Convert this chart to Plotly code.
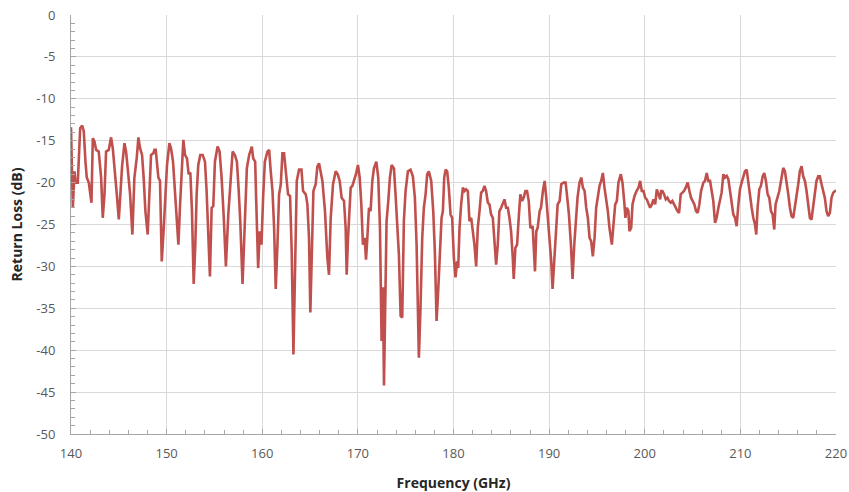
import plotly.graph_objects as go

# Frequency (GHz) and return loss (dB)
freq = [
    140.0, 140.19, 140.37, 140.47, 140.71, 140.82, 140.96, 141.17, 141.34, 141.51, 141.65, 141.86, 142.0, 142.14,
    142.28, 142.45, 142.63, 142.9, 143.15, 143.32, 143.5, 143.67, 143.95, 144.19, 144.37, 144.54, 144.79, 145.0,
    145.17, 145.34, 145.59, 145.76, 145.93, 146.18, 146.42, 146.63, 146.87, 147.05, 147.22, 147.43, 147.6, 147.78,
    148.02, 148.2, 148.37, 148.61,
    148.72, 148.86, 149.14, 149.31, 149.49, 149.7, 149.87, 150.04, 150.29, 150.46, 150.67, 150.88, 151.05, 151.23,
    151.4, 151.57, 151.75, 151.92, 152.13, 152.3, 152.48, 152.65, 152.83, 153.0, 153.14, 153.31, 153.52, 153.77,
    154.01, 154.18, 154.36, 154.53, 154.71, 154.88, 155.05, 155.33, 155.54, 155.75, 155.96, 156.2, 156.45, 156.65,
    156.9, 157.14, 157.35, 157.52, 157.7, 157.94, 158.19, 158.39,
    158.63, 158.91, 159.05, 159.26, 159.4, 159.57, 159.74, 159.92, 160.09, 160.27, 160.54, 160.72, 160.89, 161.07,
    161.24, 161.41, 161.59, 161.76, 161.94, 162.11, 162.28, 162.46, 162.7, 162.91, 163.08, 163.26, 163.43, 163.61,
    163.85, 164.1, 164.27, 164.55, 164.72, 164.89, 165.03, 165.17, 165.35, 165.59, 165.76, 165.94, 166.11, 166.29,
    166.56, 166.81, 166.98, 167.16, 167.4, 167.68, 167.89, 168.1, 168.3,
    168.55, 168.72, 168.83, 168.97, 169.11, 169.25, 169.42, 169.59, 169.8, 170.01, 170.19, 170.36, 170.53, 170.71,
    170.85, 170.99, 171.16, 171.33, 171.51, 171.68, 171.93, 172.13, 172.31, 172.48, 172.62, 172.73, 172.87, 173.0,
    173.18, 173.35, 173.53, 173.77, 173.94, 174.12, 174.29, 174.47, 174.64, 174.81, 174.99, 175.23, 175.51, 175.75,
    175.96, 176.14, 176.28, 176.38, 176.55, 176.73, 176.9, 177.08, 177.25, 177.42, 177.67, 177.88, 178.05, 178.23,
    178.4,
    178.75, 178.89, 179.03, 179.17, 179.34, 179.51, 179.69, 179.86, 180.04, 180.21, 180.38, 180.49, 180.63, 180.8,
    180.98, 181.15, 181.32, 181.5, 181.67, 181.85, 182.02, 182.19, 182.37, 182.54, 182.72, 182.89, 183.06, 183.24,
    183.41, 183.59, 183.76, 183.93, 184.11, 184.28, 184.46, 184.63, 184.8, 184.98, 185.15, 185.33, 185.5, 185.68,
    185.85, 186.02, 186.2, 186.3, 186.47, 186.65, 186.82, 186.99, 187.17, 187.34, 187.52, 187.69, 187.87, 188.04,
    188.28,
    188.52, 188.66, 188.8, 189.01, 189.15, 189.35, 189.53, 189.7, 189.88, 190.05, 190.22, 190.36, 190.54, 190.71,
    190.89, 191.1, 191.27, 191.51, 191.72, 191.86, 192.07, 192.28, 192.45, 192.63, 192.8, 192.97, 193.18, 193.36,
    193.53, 193.71, 193.88, 194.05, 194.23, 194.4, 194.57, 194.75, 194.92, 195.1, 195.27, 195.44, 195.62, 195.79,
    195.97, 196.14, 196.31, 196.56, 196.73, 196.91, 197.08, 197.25, 197.5, 197.67, 197.85, 197.98, 198.12, 198.29,
    198.4, 198.58, 198.72, 198.93, 199.14, 199.35, 199.52, 199.69, 199.87, 200.04, 200.21, 200.39, 200.56, 200.74,
    200.91, 201.09, 201.26, 201.44, 201.61, 201.71, 201.85, 202.02, 202.2, 202.37, 202.54, 202.72, 202.89, 203.07,
    203.24, 203.42, 203.59, 203.76, 203.94, 204.11, 204.28, 204.49, 204.67, 204.84, 205.02, 205.19, 205.36, 205.54,
    205.71, 205.89, 206.13, 206.3, 206.48, 206.65, 206.83, 207.0, 207.17, 207.35, 207.52, 207.7, 207.87, 208.04,
    208.22, 208.39, 208.57, 208.74, 208.92, 209.09, 209.26, 209.44, 209.61, 209.79, 209.96, 210.13, 210.31, 210.48,
    210.66, 210.83, 211.0, 211.18, 211.35, 211.53, 211.66, 211.8, 211.98, 212.15, 212.33, 212.5, 212.67, 212.85,
    213.02, 213.2, 213.37, 213.54, 213.68, 213.86, 214.07, 214.28, 214.48, 214.66, 214.83, 215.01, 215.18, 215.35,
    215.53, 215.7, 215.88, 216.05, 216.22, 216.4, 216.57, 216.75, 216.92, 217.09, 217.27, 217.44, 217.62, 217.79,
    217.96, 218.14, 218.31, 218.49, 218.66, 218.83, 219.01, 219.18, 219.36, 219.53, 219.71, 219.88, 220.0,
]

return_loss = [
    -13.4, -23.0, -18.65, -20.0, -20.0, -16.3, -13.5, -13.2, -13.9, -17.5, -19.4, -20.0, -21.0, -22.4,
    -14.7, -15.1, -16.1, -16.3, -19.4, -24.2, -21.4, -16.3, -16.1, -14.6, -15.9, -17.9, -21.4, -24.4,
    -20.6, -18.1, -15.3, -16.3, -18.3, -21.4, -26.2, -19.4, -17.1, -14.6, -15.9, -16.7, -19.4, -23.4,
    -26.2, -21.4, -16.7, -16.5,
    -16.1, -16.1, -19.4, -19.8, -29.4, -25.4, -20.6, -17.9, -15.3, -15.9, -17.5, -21.0, -23.8, -27.4,
    -22.8, -18.7, -14.9, -16.7, -17.1, -19.0, -18.8, -23.4, -32.1, -27.4, -21.4, -17.9, -16.7, -16.7,
    -17.5, -21.0, -25.4, -31.2, -23.0, -22.8, -17.5, -15.7, -16.3, -19.4, -23.8, -30.0, -23.8, -20.2,
    -16.3, -16.7, -17.5, -20.6, -24.6, -32.1, -23.4, -18.3,
    -16.7, -15.7, -17.1, -17.5, -23.4, -30.2, -25.8, -27.4, -21.8, -17.5, -16.3, -16.1, -18.7, -21.0,
    -25.4, -32.7, -27.4, -21.4, -20.2, -16.5, -16.5, -18.3, -21.4, -21.6, -28.2, -40.5, -29.4, -19.8,
    -18.45, -18.45, -21.0, -21.4, -22.6, -26.6, -35.5, -27.4, -21.0, -20.2, -18.1, -17.7, -18.65, -19.8,
    -23.4, -29.0, -31.0, -24.2, -20.2, -18.65, -19.0, -19.8, -21.8,
    -22.2, -25.4, -31.0, -26.6, -23.8, -20.6, -20.4, -19.8, -19.0, -17.9, -19.4, -22.6, -27.4, -26.6,
    -29.2, -26.6, -23.0, -23.4, -19.8, -18.3, -17.5, -19.4, -25.4, -38.9, -32.5, -44.2, -31.3, -24.6,
    -22.2, -19.4, -17.9, -18.3, -21.4, -24.6, -28.6, -35.9, -36.1, -24.6, -21.0, -18.65, -18.45, -19.25,
    -21.8, -27.4, -34.5, -40.9, -34.9, -26.6, -23.0, -21.4, -19.0, -18.65, -19.8, -23.4, -28.2, -36.5,
    -32.9,
    -24.2, -23.4, -19.4, -18.45, -18.65, -20.6, -23.8, -24.2, -29.0, -31.3, -29.4, -30.2, -25.4, -22.6,
    -20.6, -21.0, -20.8, -21.0, -24.6, -24.2, -25.8, -27.4, -30.0, -25.4, -23.4, -21.2, -21.0, -20.4,
    -21.0, -22.4, -22.6, -23.8, -24.2, -27.4, -29.8, -27.4, -23.4, -23.0, -22.6, -22.0, -23.0, -23.0,
    -24.2, -25.8, -29.0, -31.5, -27.8, -27.4, -24.2, -21.4, -22.2, -21.8, -21.0, -21.0, -22.2, -25.4,
    -25.2,
    -30.6, -25.8, -25.4, -23.4, -23.0, -21.0, -19.8, -21.8, -24.2, -26.6, -29.4, -32.7, -29.0, -25.4,
    -22.6, -22.2, -20.2, -20.0, -20.0, -21.4, -23.8, -27.4, -31.5, -27.4, -24.2, -21.8, -20.0, -19.4,
    -20.6, -21.0, -23.0, -24.2, -26.6, -27.0, -28.8, -26.6, -23.0, -21.4, -20.4, -19.8, -18.85, -20.6,
    -21.8, -23.4, -25.4, -27.4, -25.0, -22.6, -22.2, -20.0, -19.0, -20.0, -22.2, -24.2, -23.0, -23.4,
    -25.8, -25.4, -22.6, -21.6, -21.0, -20.6, -19.8, -21.0, -21.0, -21.8, -22.0, -22.6, -23.0, -22.6,
    -22.0, -22.6, -20.8, -21.4, -22.0, -21.0, -21.0, -21.4, -22.0, -21.8, -22.2, -22.4, -22.2, -22.6,
    -23.0, -23.4, -23.6, -21.4, -21.2, -21.0, -20.6, -20.0, -21.0, -21.8, -22.2, -22.6, -23.4, -23.6,
    -22.6, -21.0, -20.0, -19.8, -18.85, -19.8, -19.8, -21.0, -22.2, -24.8, -24.2, -23.0, -22.2, -21.2,
    -19.0, -19.4, -19.2, -19.6, -21.0, -22.2, -23.8, -24.2, -25.2, -22.6, -20.8, -20.0, -19.4, -18.65,
    -18.45, -20.0, -21.8, -23.0, -24.2, -25.0, -26.2, -23.0, -20.8, -20.4, -19.25, -18.85, -19.8, -21.4,
    -21.8, -23.4, -23.8, -25.6, -22.6, -21.8, -21.0, -19.6, -18.25, -18.65, -19.8, -21.4, -23.0, -24.0,
    -24.2, -23.0, -21.4, -20.2, -18.65, -18.05, -19.25, -19.8, -21.0, -23.0, -24.2, -24.4, -22.8, -21.2,
    -19.8, -19.25, -19.25, -20.2, -21.0, -21.8, -23.4, -24.0, -23.6, -21.8, -21.2, -21.0, -20.9,
]

x_ticks = [140, 150, 160, 170, 180, 190, 200, 210, 220]
y_ticks = [0, -5, -10, -15, -20, -25, -30, -35, -40, -45, -50]

fig = go.Figure()
fig.add_trace(go.Scatter(
    x=freq, y=return_loss, mode="lines",
    line=dict(color="#C0504D", width=2.6),
    hoverinfo="x+y", showlegend=False,
))

axis_font = dict(family="Open Sans", size=13, color="#595959")
title_font = dict(family="Open Sans", size=14, color="#262626")

fig.update_layout(
    width=849, height=492,
    margin=dict(l=71, r=13, t=15, b=58),
    paper_bgcolor="white", plot_bgcolor="white",
    xaxis=dict(
        range=[140, 220], tickvals=x_ticks, ticktext=[str(v) for v in x_ticks],
        showgrid=True, gridcolor="#D9D9D9", gridwidth=1,
        showline=True, linecolor="#A6A6A6", linewidth=1,
        ticks="inside", ticklen=5, tickcolor="#A6A6A6",
        minor=dict(dtick=2, ticks="inside", ticklen=4, tickcolor="#A6A6A6", showgrid=False),
        tickfont=axis_font, zeroline=False, automargin=False,
        ticklabelstandoff=7, ticklabeloverflow="allow",
        title=dict(text="<b>Frequency (GHz)</b>", font=title_font, standoff=22),
    ),
    yaxis=dict(
        range=[-50, 0], tickvals=y_ticks, ticktext=[str(v) for v in y_ticks],
        showgrid=True, gridcolor="#D9D9D9", gridwidth=1,
        showline=True, linecolor="#A6A6A6", linewidth=1,
        ticks="inside", ticklen=5, tickcolor="#A6A6A6",
        minor=dict(dtick=1, ticks="inside", ticklen=4, tickcolor="#A6A6A6", showgrid=False),
        tickfont=axis_font, zeroline=False, automargin=False, ticklabelstandoff=12,
        ticklabeloverflow="allow",
        title=dict(text="<b>Return Loss (dB)</b>", font=title_font, standoff=10),
    ),
)

# Remove the browser's default 8px body margin so the 849x492 figure fills the window.
fig.write_html(
    "out.html",
    config={"displayModeBar": False},
    post_script="document.body.style.margin='0';document.body.style.overflow='hidden';",
)
